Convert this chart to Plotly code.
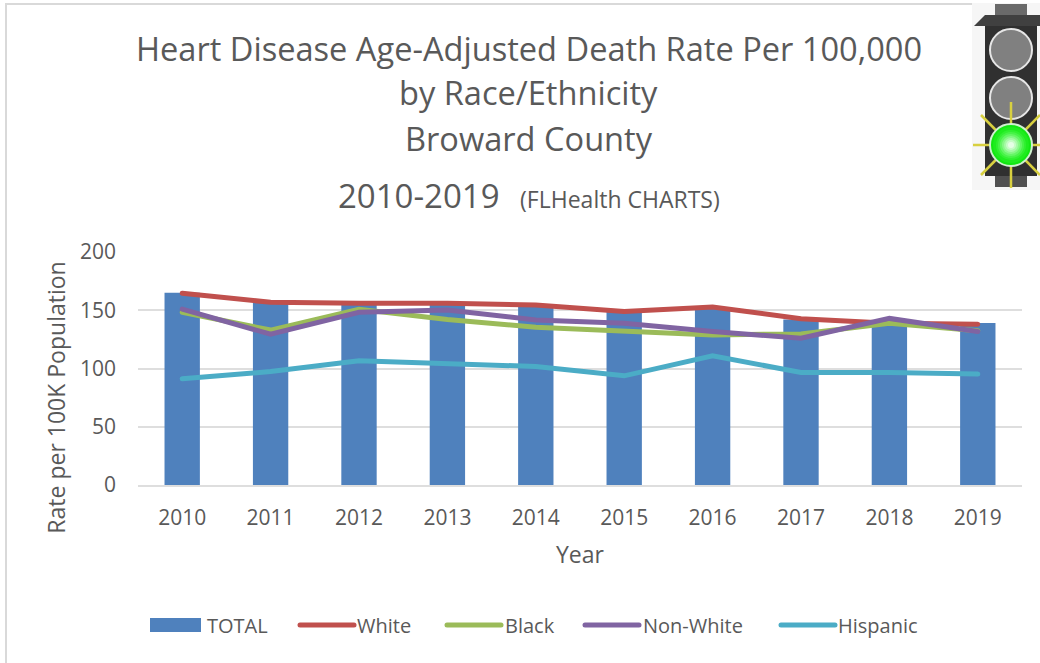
import plotly.graph_objects as go

years = ["2010","2011","2012","2013","2014","2015","2016","2017","2018","2019"]
total = [165,157,155,155,154,149,152,142,139,139]
white = [164.6,156.8,156,156,154.5,149,152.8,142.8,138.9,138]
black = [148.3,133,150.8,142,135.4,131.7,128.8,129.7,138.9,132.5]
nonwhite = [151,129.4,148.3,150.3,141.7,138.9,131.7,126,143,131.7]
hispanic = [91.2,97.4,106.6,103.8,101.7,93.7,110.9,96.6,96.6,95.2]

W, H = 1040, 663
L, R, T, B = 138, 1022, 252, 485
FONT = "Open Sans"
GREY = "#595959"

fig = go.Figure()
fig.add_bar(x=years, y=total, name="TOTAL", marker=dict(color="#4F81BD", line_width=0))
for name, vals, col in [("White", white, "#C0504D"), ("Black", black, "#9BBB59"),
                        ("Non-White", nonwhite, "#8064A2"), ("Hispanic", hispanic, "#4BACC6")]:
    fig.add_scatter(x=years, y=vals, name=name, mode="lines", line=dict(color=col, width=5))

def px(x, y, x1, y1):
    return dict(xref="paper", yref="paper",
                x0=(x-L)/(R-L), x1=(x1-L)/(R-L),
                y0=(B-y)/(B-T), y1=(B-y1)/(B-T))

shapes = []
def rect(x, y, x1, y1, fill, **kw):
    shapes.append(dict(type="rect", fillcolor=fill, line_width=0, **px(x,y,x1,y1), **kw))
def circ(cx, cy, r, fill, lc=None, lw=0):
    shapes.append(dict(type="circle", fillcolor=fill, line=dict(color=lc or fill, width=lw), **px(cx-r,cy-r,cx+r,cy+r)))

# chart frame
rect(5, 3, 972, 5, "#D9D9D9")
rect(5, 3, 7, 663, "#D9D9D9")

# traffic-light picture
rect(972, 3, 1040, 190, "#F6F6F6")
rect(995, 4, 1027, 16, "#6A6A6A")
shapes.append(dict(type="path", fillcolor="#404040", line_width=0, xref="paper", yref="paper",
    path="M %f %f L %f %f L %f %f L %f %f Z" % (
        (985-L)/(R-L),(B-15)/(B-T),(1040-L)/(R-L),(B-15)/(B-T),
        (1040-L)/(R-L),(B-26)/(B-T),(974-L)/(R-L),(B-26)/(B-T))))
rect(985, 26, 1037, 176, "#303030")
rect(995, 176, 1027, 187, "#505050")
circ(1011, 50, 21, "#808080", "#E6E6E6", 2)
circ(1011, 98, 21, "#808080", "#E6E6E6", 2)
for x0,y0,x1,y1 in [(1011,102,1011,188),(973,145,1040,145),(981,115,1040,175),(981,175,1040,115)]:
    shapes.append(dict(type="line", line=dict(color="#D8D040", width=2.5), **px(x0,y0,x1,y1)))
circ(1011, 145, 21, "#12E612", "#D0F0D0", 2)
for r, c in [(18,"#1EEC1E"),(15,"#30F030"),(13,"#48F348"),(11,"#66F666"),(9,"#88F888"),(7,"#A8FAA8"),(5,"#C8FCC8"),(3,"#E6FEE6")]:
    circ(1011, 145, r, c)

fig.update_layout(
    width=W, height=H, autosize=False,
    margin=dict(l=L, r=W-R, t=T, b=H-B),
    paper_bgcolor="white", plot_bgcolor="white",
    font=dict(family=FONT, color=GREY, size=18),
    bargap=0.6, showlegend=True,
    legend=dict(orientation="h", x=0.5, xanchor="center", y=(B-625)/(B-T), yanchor="middle",
                font=dict(size=20), traceorder="normal", itemwidth=55),
    xaxis=dict(type="category", showgrid=False, showline=True, linecolor="#DEDEDE", linewidth=2,
               ticks="", tickfont=dict(size=21), ticklabelstandoff=13,
               title=dict(text="Year", font=dict(size=23), standoff=17)),
    yaxis=dict(range=[0,200], dtick=50, gridcolor="#DEDEDE", gridwidth=2, zeroline=False,
               showline=False, ticks="", tickfont=dict(size=21), ticklabelstandoff=21,
               title=dict(text="Rate per 100K Population", font=dict(size=23), standoff=14)),
    shapes=shapes,
)

def ann(text, cx, cy, size):
    fig.add_annotation(text=text, xref="paper", yref="paper", showarrow=False,
                       x=(cx-L)/(R-L), y=(B-cy)/(B-T), xanchor="center", yanchor="middle",
                       font=dict(size=size, color=GREY, family=FONT))

ann("Heart Disease Age-Adjusted Death Rate Per 100,000", 528.5, 48, 32.6)
ann("by Race/Ethnicity", 528.5, 92.5, 32.6)
ann("Broward County", 528.5, 138.5, 32.6)
ann("2010-2019 <span style='font-size:23px'>  (FLHealth CHARTS)</span>", 528.5, 195, 33)

# legend entries: left edge of each swatch and start of its label, as laid out in the reference
fig.write_html("out.html", config=dict(displayModeBar=False), post_script="""
document.body.style.margin='0';
document.querySelectorAll('.js-line').forEach(p=>p.style.strokeLinecap='round');
var gd=document.querySelector('.plotly-graph-div');
var yt=gd.querySelector('.ytitle');
if(yt){yt.setAttribute('transform','translate(7,29) '+(yt.getAttribute('transform')||''));}
var lg=gd.querySelector('.legend');
var sb=lg.querySelector('.scrollbox');
sb.removeAttribute('clip-path'); lg.removeAttribute('clip-path');
var targets=[[150,207],[300,357],[447,505],[585,643],[781,838]];
var m=(lg.getAttribute('transform')||'').match(/translate\\(([-\\d.]+)[, ]+([-\\d.]+)/);
var lx=m?parseFloat(m[1]):0;
lg.querySelectorAll('.traces').forEach(function(t,i){
  var tm=(t.getAttribute('transform')||'').match(/translate\\(([-\\d.]+)[, ]+([-\\d.]+)/);
  var ty=tm?parseFloat(tm[2]):0;
  var sl=targets[i][0], tx=targets[i][1];
  t.setAttribute('transform','translate('+(sl-lx)+','+ty+')');
  var txt=t.querySelector('.legendtext');
  txt.setAttribute('x',tx-sl);
  var lines=t.querySelector('.legendlines path');
  if(lines){lines.style.strokeLinecap='round';lines.setAttribute('d','M0,0h54');}
  var pts=t.querySelector('.legendpoints path');
  if(i==0&&pts){pts.setAttribute('d','M0,7H51V-7H0Z');pts.setAttribute('transform','translate(0,0)');}
});
""")
